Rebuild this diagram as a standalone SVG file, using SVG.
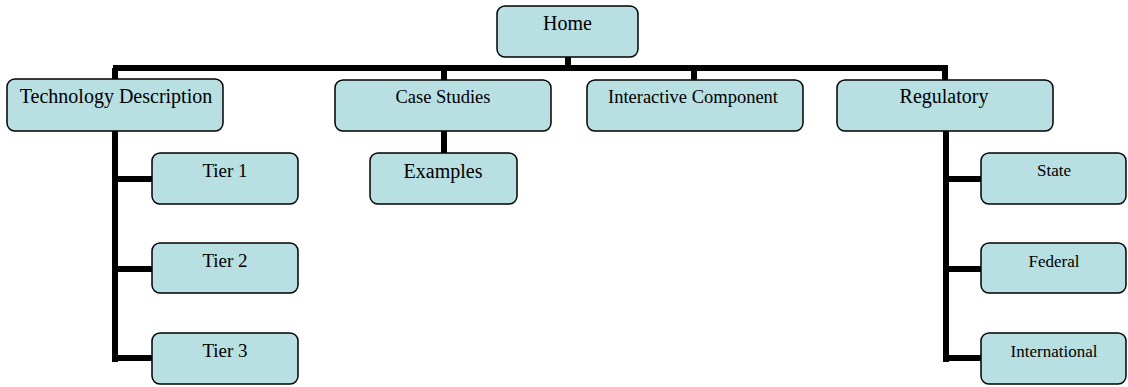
<svg xmlns="http://www.w3.org/2000/svg" width="1128" height="387" viewBox="0 0 1128 387">
<style>
.box{fill:#B8DFE2;stroke:#000;stroke-width:1.5}
.t{font-family:"Liberation Serif","Times New Roman",serif;fill:#000;text-anchor:middle}
.c{stroke:#000;stroke-width:6;fill:none;stroke-linecap:butt;stroke-linejoin:miter}
</style>
<rect width="1128" height="387" fill="#fff"/>
<g id="connectors">
<path class="c" d="M568 57V68M113 68H948M115 68V80M444 68V80M694 68V80M945 68V80"/>
<path class="c" d="M115 131V362M112 179H152M112 269H152M112 358H152"/>
<path class="c" d="M444 131V153"/>
<path class="c" d="M946 131V362M943 179H981M943 269H981M943 358H981"/>
</g>
<g id="home"><rect class="box" x="497" y="6" width="141" height="51" rx="8"/><text class="t" x="567.5" y="30" font-size="20">Home</text></g>
<g id="tech"><rect class="box" x="7" y="79" width="216" height="52" rx="8"/><text class="t" x="116" y="103" font-size="20">Technology Description</text></g>
<g id="tier1"><rect class="box" x="152" y="153" width="146" height="51" rx="8"/><text class="t" x="225" y="177" font-size="19">Tier 1</text></g>
<g id="tier2"><rect class="box" x="152" y="243" width="146" height="50" rx="8"/><text class="t" x="225" y="267" font-size="19">Tier 2</text></g>
<g id="tier3"><rect class="box" x="152" y="333" width="146" height="51" rx="8"/><text class="t" x="225" y="357" font-size="19">Tier 3</text></g>
<g id="case"><rect class="box" x="335" y="80" width="216" height="51" rx="8"/><text class="t" x="443" y="103" font-size="18.5">Case Studies</text></g>
<g id="examples"><rect class="box" x="370" y="153" width="147" height="51" rx="8"/><text class="t" x="443" y="178" font-size="20">Examples</text></g>
<g id="interactive"><rect class="box" x="587" y="80" width="216" height="51" rx="8"/><text class="t" x="693" y="103" font-size="18.5">Interactive Component</text></g>
<g id="regulatory"><rect class="box" x="837" y="80" width="216" height="51" rx="8"/><text class="t" x="944" y="103" font-size="20">Regulatory</text></g>
<g id="state"><rect class="box" x="981" y="153" width="145" height="51" rx="8"/><text class="t" x="1054" y="176" font-size="17">State</text></g>
<g id="federal"><rect class="box" x="981" y="243" width="145" height="50" rx="8"/><text class="t" x="1054" y="267" font-size="17">Federal</text></g>
<g id="international"><rect class="box" x="981" y="333" width="145" height="51" rx="8"/><text class="t" x="1054" y="357" font-size="17">International</text></g>
</svg>
